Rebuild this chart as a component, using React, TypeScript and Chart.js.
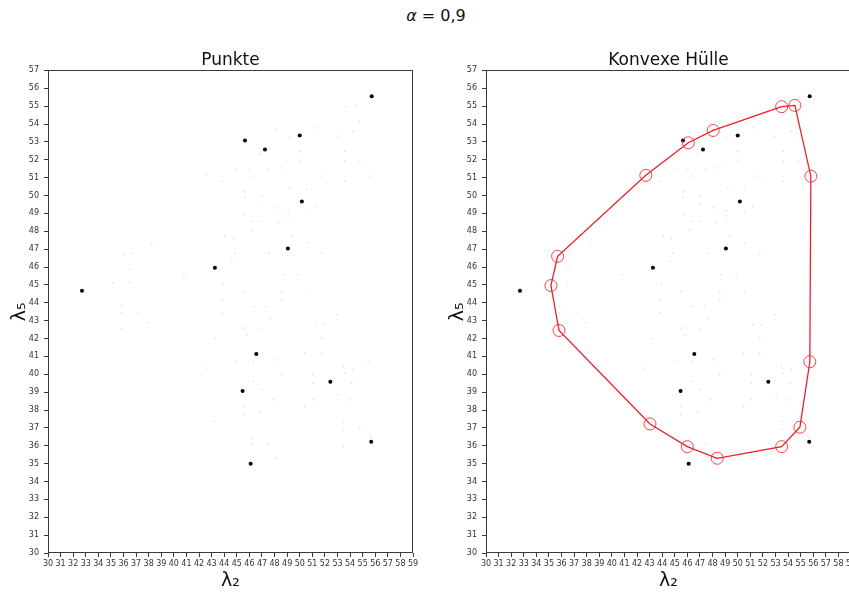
import React, { useEffect, useRef } from "react";
import { Chart, registerables } from "chart.js";

Chart.register(...registerables);
Chart.defaults.font.family = "'DejaVu Sans', sans-serif";

const SUPTITLE_ALPHA = "α";
const SUPTITLE_REST = " = 0,9";
const TITLE_LEFT = "Punkte";
const TITLE_RIGHT = "Konvexe Hülle";
const X_LABEL = "λ₂";
const Y_LABEL = "λ₅";

const X_MIN = 30;
const X_MAX = 59;
const Y_MIN = 30;
const Y_MAX = 57;

// prominent (black) points
const blackX = [55.72, 45.65, 47.24, 50.0, 50.17, 49.06, 43.26, 32.7, 46.55, 45.46, 52.43, 55.68, 46.1];
const blackY = [55.55, 53.08, 52.57, 53.36, 49.66, 47.03, 45.96, 44.67, 41.13, 39.06, 39.58, 36.22, 35.0];

// faint background points
const faintX = [
  38.24, 35.98, 36.65, 36.51, 35.19, 36.46, 40.8, 35.85, 35.85, 37.17, 37.97, 35.85,
  48.11, 49.22, 50.02, 50.02, 46.84, 44.99, 46.04, 47.5, 48.56, 42.6, 43.8, 46.31,
  49.22, 45.65, 45.65, 46.97, 46.97, 48.03, 49.09, 45.65, 46.31, 46.97, 48.29, 49.09,
  46.18, 44.06, 44.72, 49.36, 44.85, 44.59, 47.58, 48.69, 49.88, 53.72, 54.38, 54.73,
  54.25, 51.21, 52.93, 53.59, 53.59, 54.78, 51.74, 53.59, 55.6, 50.55, 51.21, 50.55,
  50.55, 51.74, 43.93, 45.51, 48.56, 48.56, 43.8, 46.31, 47.37, 43.8, 47.63, 45.51,
  46.97, 45.78, 43.26, 44.99, 46.31, 48.03, 42.6, 48.56, 46.31, 46.97, 47.9, 45.51,
  46.84, 45.51, 43.13, 46.18, 46.18, 47.5, 48.16, 50.55, 52.93, 51.21, 51.87, 51.74,
  50.41, 51.74, 55.44, 53.46, 54.25, 53.59, 51.07, 51.07, 54.12, 53.06, 51.07, 54.12,
  50.41, 53.46, 53.46, 54.78, 55.6, 53.46,
];
const faintY = [
  47.25, 46.69, 46.75, 45.89, 45.1, 45.14, 45.57, 43.83, 43.43, 43.46, 42.9, 42.53,
  53.69, 53.23, 52.48, 51.97, 52.29, 51.45, 51.45, 51.45, 51.55, 51.17, 50.8, 51.08,
  50.43, 50.24, 49.87, 49.96, 49.49, 49.31, 49.12, 48.93, 48.56, 48.56, 48.47, 48.84,
  48.09, 47.72, 47.62, 47.72, 46.79, 46.32, 46.79, 45.57, 45.57, 55.0, 55.04, 54.16,
  53.6, 53.79, 53.32, 52.48, 51.92, 51.92, 51.08, 50.8, 51.08, 50.33, 49.4, 49.03,
  47.35, 46.79, 45.01, 44.64, 44.64, 44.17, 44.17, 43.8, 43.8, 43.43, 43.15, 42.59,
  42.49, 42.21, 42.02, 40.71, 40.68, 40.81, 40.34, 39.97, 39.6, 39.13, 38.57, 38.2,
  37.91, 37.73, 37.35, 36.42, 36.05, 36.05, 35.3, 44.64, 43.33, 42.77, 42.77, 42.02,
  41.18, 41.18, 40.71, 40.43, 40.25, 40.06, 39.97, 39.5, 39.5, 38.85, 38.57, 38.57,
  38.2, 37.35, 36.89, 36.98, 36.51, 35.95,
];

// convex hull vertices (closed in the chart by repeating the first)
const hullX = [53.49, 54.54, 55.81, 55.73, 54.94, 53.49, 48.37, 45.99, 43.03, 35.8, 35.16, 35.69, 42.7, 46.07, 48.05];
const hullY = [54.97, 55.04, 51.08, 40.7, 37.04, 35.95, 35.3, 35.95, 37.22, 42.45, 44.96, 46.6, 51.13, 52.95, 53.64];

const toPts = (xs: number[], ys: number[]) => xs.map((x, i) => ({ x, y: ys[i] }));

const framePlugin = {
  id: "frame",
  afterDraw(chart: any) {
    const { ctx, chartArea } = chart;
    ctx.save();
    ctx.strokeStyle = "#3a3a3a";
    ctx.lineWidth = 1;
    const l = Math.round(chartArea.left) + 0.5;
    const t = Math.round(chartArea.top) + 0.5;
    const r = Math.round(chartArea.right) - 0.5;
    const b = Math.round(chartArea.bottom) - 0.5;
    ctx.strokeRect(l, t, r - l, b - t);
    ctx.restore();
  },
};

function makeConfig(title: string, withHull: boolean, padLeft: number, padRight: number): any {
  const datasets: any[] = [
    {
      label: "faint",
      data: toPts(faintX, faintY),
      pointRadius: 1,
      pointBackgroundColor: "rgba(0,0,0,0.1)",
      pointBorderWidth: 0,
      order: 3,
    },
    {
      label: "points",
      data: toPts(blackX, blackY),
      pointRadius: 2,
      pointBackgroundColor: "#000",
      pointBorderWidth: 0,
      order: 2,
    },
  ];
  if (withHull) {
    const hx = [...hullX, hullX[0]];
    const hy = [...hullY, hullY[0]];
    const radii = hx.map((_, i) => (i === hx.length - 1 ? 0 : 6));
    datasets.push({
      label: "hull",
      data: toPts(hx, hy),
      showLine: true,
      borderColor: "rgb(238,30,40)",
      borderWidth: 1.3,
      pointRadius: radii,
      pointBorderColor: "rgba(238,40,50,0.85)",
      pointBorderWidth: 1,
      pointBackgroundColor: "rgba(0,0,0,0)",
      order: 1,
    });
  }
  const tickFont = { size: 8, family: "'DejaVu Sans', sans-serif" };
  return {
    type: "scatter",
    data: { datasets },
    options: {
      animation: false,
      responsive: false,
      events: [],
      layout: { padding: { left: padLeft, right: padRight, top: 0, bottom: 0 } },
      plugins: {
        legend: { display: false },
        tooltip: { enabled: false },
        title: {
          display: true,
          text: title,
          fullSize: false,
          color: "#111",
          font: { size: 17, weight: "normal", family: "'DejaVu Sans', sans-serif" },
          padding: { top: 50, bottom: 0 },
        },
      },
      scales: {
        x: {
          type: "linear",
          min: X_MIN,
          max: X_MAX,
          afterFit: (s: any) => {
            s.height = 41;
          },
          border: { display: false },
          grid: { drawOnChartArea: false, drawTicks: true, tickLength: 4, color: "#3a3a3a" },
          ticks: {
            stepSize: 1,
            autoSkip: false,
            maxRotation: 0,
            minRotation: 0,
            padding: 2,
            color: "#333",
            font: tickFont,
          },
          title: {
            display: true,
            text: X_LABEL,
            color: "#111",
            font: { size: 19, family: "'DejaVu Sans', sans-serif" },
            padding: { top: 0, bottom: 2 },
          },
        },
        y: {
          type: "linear",
          min: Y_MIN,
          max: Y_MAX,
          afterFit: (s: any) => {
            s.width = 48;
          },
          border: { display: false },
          grid: { drawOnChartArea: false, drawTicks: true, tickLength: 4, color: "#3a3a3a" },
          ticks: {
            stepSize: 1,
            autoSkip: false,
            padding: 5,
            color: "#333",
            font: tickFont,
          },
          title: {
            display: true,
            text: Y_LABEL,
            color: "#111",
            font: { size: 19, family: "'DejaVu Sans', sans-serif" },
            padding: { top: 9, bottom: 0 },
          },
        },
      },
    },
    plugins: [framePlugin],
  };
}

function Panel(props: { left: number; title: string; hull: boolean; padLeft: number; padRight: number }) {
  const ref = useRef<HTMLCanvasElement | null>(null);
  useEffect(() => {
    if (!ref.current) return;
    const chart = new Chart(ref.current, makeConfig(props.title, props.hull, props.padLeft, props.padRight));
    return () => chart.destroy();
  }, []);
  return (
    <canvas
      ref={ref}
      width={430}
      height={594}
      style={{ position: "absolute", left: props.left, top: 0, width: 430, height: 594 }}
    />
  );
}

export default function App() {
  return (
    <div
      style={{
        position: "absolute",
        left: 0,
        top: 0,
        width: 849,
        height: 594,
        overflow: "hidden",
        background: "#fff",
      }}
    >
      <div
        style={{
          position: "absolute",
          left: 0,
          top: 6,
          width: 872,
          textAlign: "center",
          fontFamily: "'DejaVu Sans', sans-serif",
          fontSize: 16,
          color: "#111",
          lineHeight: "20px",
        }}
      >
        <span style={{ fontStyle: "italic" }}>{SUPTITLE_ALPHA}</span>
        {SUPTITLE_REST}
      </div>
      <Panel left={0} title={TITLE_LEFT} hull={false} padLeft={0} padRight={17} />
      <Panel left={430} title={TITLE_RIGHT} hull={true} padLeft={8} padRight={9} />
    </div>
  );
}
